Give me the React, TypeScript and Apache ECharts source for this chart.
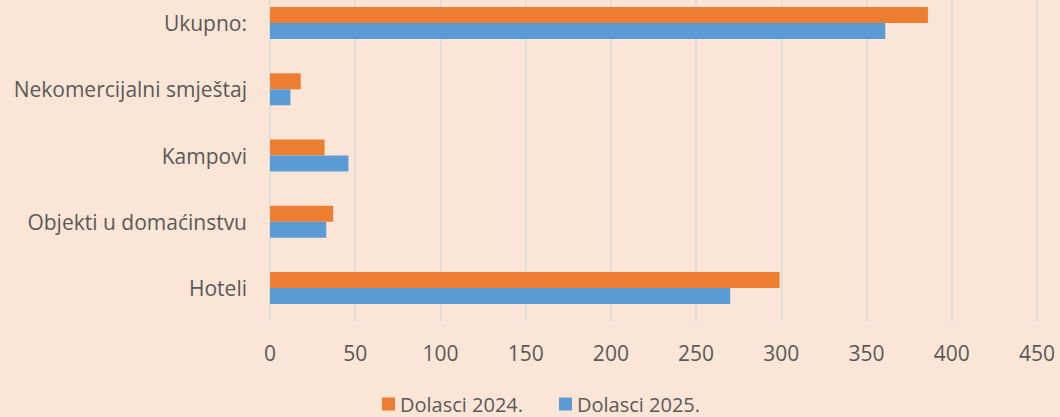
import React, { useEffect, useRef } from "react";
import * as echarts from "echarts";

const categories = [
  "Hoteli",
  "Objekti u domaćinstvu",
  "Kampovi",
  "Nekomercijalni smještaj",
  "Ukupno:",
];
const dolasci2024 = [299, 37, 32, 18, 386];
const dolasci2025 = [270, 33, 46, 12, 361];
const seriesNames = ["Dolasci 2024.", "Dolasci 2025."];
const xMin = 0;
const xMax = 450;
const xInterval = 50;

const FONT = "'Open Sans', sans-serif";
const TEXT = "#595959";
const SHIFT = 10; // plot area starts above the visible page edge

export default function App() {
  const ref = useRef<HTMLDivElement>(null);
  useEffect(() => {
    document.body.style.margin = "0";
    document.body.style.overflow = "hidden";
    document.body.style.background = "#FBE5D6";
    const chart = echarts.init(ref.current!, undefined, { renderer: "svg" });
    const legendText = { color: TEXT, fontSize: 20, lineHeight: 20, fontFamily: FONT };
    chart.setOption({
      animation: false,
      backgroundColor: "#FBE5D6",
      textStyle: { fontFamily: FONT },
      grid: { left: 270, right: 23, top: 0, bottom: 96, containLabel: false },
      legend: [
        {
          data: [seriesNames[0]],
          left: 382,
          top: 394 + SHIFT,
          icon: "rect",
          itemWidth: 13,
          itemHeight: 13,
          padding: 0,
          textStyle: legendText,
        },
        {
          data: [seriesNames[1]],
          left: 559,
          top: 394 + SHIFT,
          icon: "rect",
          itemWidth: 13,
          itemHeight: 13,
          padding: 0,
          textStyle: legendText,
        },
      ],
      xAxis: {
        type: "value",
        min: xMin,
        max: xMax,
        interval: xInterval,
        axisLine: { show: false },
        axisTick: { show: false },
        axisLabel: { color: TEXT, fontSize: 21, fontFamily: FONT, margin: 21 },
        splitLine: { show: true, lineStyle: { color: "#D9D9D9", width: 1.5 } },
      },
      yAxis: {
        type: "category",
        data: categories,
        axisLine: { show: false },
        axisTick: { show: false },
        axisLabel: { color: TEXT, fontSize: 21, fontFamily: FONT, margin: 23 },
      },
      series: [
        {
          name: seriesNames[0],
          type: "bar",
          data: dolasci2024,
          barWidth: 16,
          barGap: "0%",
          itemStyle: { color: "#ED7D31" },
        },
        {
          name: seriesNames[1],
          type: "bar",
          data: dolasci2025,
          barWidth: 16,
          barGap: "0%",
          itemStyle: { color: "#5B9BD5" },
        },
      ],
    });
    return () => chart.dispose();
  }, []);
  return (
    <div
      ref={ref}
      style={{ position: "absolute", left: 0, top: -SHIFT, width: 1060, height: 417 + SHIFT }}
    />
  );
}
